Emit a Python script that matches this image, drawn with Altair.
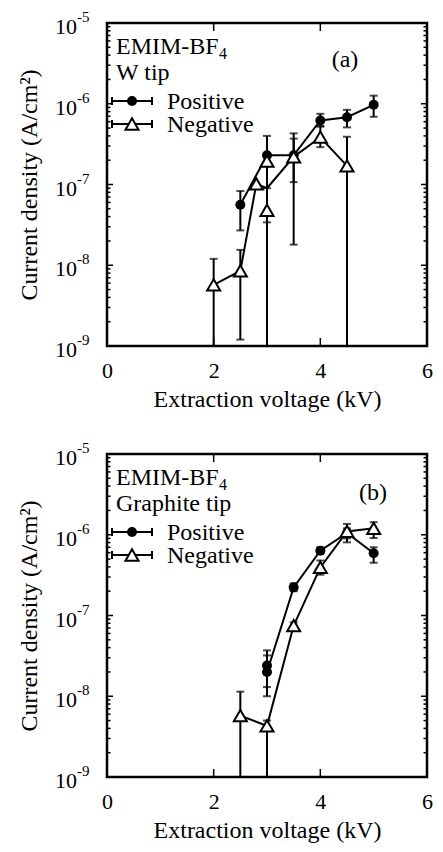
import altair as alt
import pandas as pd

FONT = "Liberation Serif"
W, H = 320, 323
OFF = 1e-10  # lower error limit that falls below the axis

# ---------------- data: panel (a) W tip ----------------
a_pos_x = [2.5, 3.0, 3.5, 4.0, 4.5, 5.0]
a_pos_y = [5.6e-8, 2.3e-7, 2.3e-7, 6.2e-7, 6.8e-7, 9.7e-7]
a_neg_x = [2.0, 2.5, 2.8, 3.0, 3.0, 3.5, 4.0, 4.5]
a_neg_y = [5.7e-9, 8.5e-9, 1.02e-7, 1.95e-7, 4.8e-8, 2.2e-7, 3.85e-7, 1.7e-7]
a_neg_line_x = [2.0, 2.5, 2.8, 3.0, 3.5, 4.0, 4.5]
a_neg_line_y = [5.7e-9, 8.5e-9, 1.02e-7, 9.0e-8, 2.2e-7, 3.85e-7, 1.7e-7]
a_err_x = [2.0, 2.5, 2.5, 3.0, 3.0, 3.5, 3.5, 4.0, 4.0, 4.5, 4.5, 5.0]
a_err_lo = [OFF, 2.7e-8, 1.2e-9, 3.4e-8, OFF, 1.07e-7, 1.8e-8, 5.3e-7, 2.9e-7, 5.1e-7, OFF, 6.9e-7]
a_err_hi = [1.2e-8, 8.3e-8, 1.55e-8, 4.0e-7, 9.0e-8, 4.3e-7, 3.7e-7, 7.5e-7, 5.2e-7, 8.4e-7, 3.9e-7, 1.26e-6]

# ---------------- data: panel (b) Graphite tip ----------------
b_pos_x = [3.0, 3.0, 3.5, 4.0, 4.5, 5.0]
b_pos_y = [2.4e-8, 2.0e-8, 2.23e-7, 6.35e-7, 1.05e-6, 5.9e-7]
b_neg_x = [2.5, 3.0, 3.5, 4.0, 4.5, 5.0]
b_neg_y = [5.75e-9, 4.3e-9, 7.5e-8, 3.94e-7, 1.1e-6, 1.2e-6]
b_err_x = [2.5, 3.0, 3.0, 3.0, 3.5, 3.5, 4.0, 4.0, 4.5, 4.5, 5.0, 5.0]
b_err_lo = [OFF, OFF, 1.3e-8, 1.0e-8, 2.0e-7, 6.8e-8, 5.8e-7, 3.2e-7, 9.0e-7, 8.05e-7, 4.5e-7, 9.1e-7]
b_err_hi = [1.14e-8, 5.0e-9, 3.7e-8, 3.2e-8, 2.5e-7, 8.2e-8, 7.0e-7, 4.8e-7, 1.2e-6, 1.36e-6, 7.0e-7, 1.43e-6]

# ---------------- text ----------------
series_names = ["Positive", "Negative"]
liquid = "EMIM-BF"
liquid_sub = "4"
tips = ["W tip", "Graphite tip"]
tags = ["(a)", "(b)"]
x_title = "Extraction voltage (kV)"
y_title = "Current density (A/cm\u00b2)"
x_tick_values = [0, 2, 4, 6]
x_inner_ticks = [2, 4]
y_major = [1e-9, 1e-8, 1e-7, 1e-6, 1e-5]
y_exps = ["-9", "-8", "-7", "-6", "-5"]
y_minor = [m * 10.0 ** k for k in range(-9, -5) for m in range(2, 10)]

xs = alt.Scale(domain=[0, 6], nice=False, zero=False)
ys = alt.Scale(type="log", domain=[1e-9, 1e-5], nice=False)
AX = alt.Axis(values=x_tick_values, tickSize=0, domain=False, grid=False,
              labelPadding=14, titlePadding=6, labelFontSize=22,
              titleFontSize=24, labelFlush=False, title=x_title)
AY = alt.Axis(labels=False, ticks=False, domain=False, grid=False,
              titlePadding=66, titleFontSize=24, title=y_title)


def X(f="x"):
    return alt.X(f"{f}:Q", scale=xs, axis=AX, title=x_title)


def Y(f="y"):
    return alt.Y(f"{f}:Q", scale=ys, axis=AY, title=y_title)


def panel(pos_x, pos_y, neg_x, neg_y, pos_lx, pos_ly, neg_lx, neg_ly,
          ex, elo, ehi, tip, tag, tag_x, tag_y):
    pos = pd.DataFrame({"x": pos_x, "y": pos_y})
    neg = pd.DataFrame({"x": neg_x, "y": neg_y})
    pl = pd.DataFrame({"x": pos_lx, "y": pos_ly, "i": range(len(pos_lx))})
    nl = pd.DataFrame({"x": neg_lx, "y": neg_ly, "i": range(len(neg_lx))})
    err = pd.DataFrame({"x": ex, "y": elo, "y2": ehi})
    caps = pd.concat([err[["x", "y"]],
                      err[["x", "y2"]].rename(columns={"y2": "y"})])
    caps = caps[(caps.y >= 1e-9) & (caps.y <= 1e-5)]

    rules = alt.Chart(err).mark_rule(color="black", strokeWidth=2, clip=True).encode(
        x=X(), y=Y(), y2="y2:Q")
    cap_marks = alt.Chart(caps).mark_tick(orient="horizontal", color="black", size=8,
                                          thickness=2).encode(x=X(), y=Y())
    pos_line = alt.Chart(pl).mark_line(color="black", strokeWidth=2).encode(
        x=X(), y=Y(), order="i:Q")
    neg_line = alt.Chart(nl).mark_line(color="black", strokeWidth=2).encode(
        x=X(), y=Y(), order="i:Q")
    pos_pts = alt.Chart(pos).mark_point(shape="circle", filled=True, color="black",
                                        size=100, opacity=1).encode(x=X(), y=Y())
    neg_pts = alt.Chart(neg).mark_point(shape="triangle-up", fill="white", stroke="black",
                                        strokeWidth=2, size=170, opacity=1).encode(x=X(), y=Y())

    # inward ticks (rules)
    ymaj = pd.DataFrame({"y": y_major})
    ymin = pd.DataFrame({"y": y_minor})
    xin = pd.DataFrame({"x": x_inner_ticks})
    tick_layers = []
    for x0, x1, df in [(0, 6, ymaj), (W - 6, W, ymaj), (0, 3.5, ymin), (W - 3.5, W, ymin)]:
        tick_layers.append(alt.Chart(df).mark_rule(color="black", strokeWidth=1.5).encode(
            y=Y(), x=alt.value(x0), x2=alt.value(x1)))
    for y0, y1 in [(0, 8), (H - 8, H)]:
        tick_layers.append(alt.Chart(xin).mark_rule(color="black", strokeWidth=1.5).encode(
            x=X(), y=alt.value(y0), y2=alt.value(y1)))

    # y tick labels 10^n
    lab = pd.DataFrame({"y": y_major, "e": y_exps, "b": ["10"] * len(y_major)})
    ten = alt.Chart(lab).mark_text(align="right", baseline="middle", fontSize=22,
                                   font=FONT, dy=4, color="black").encode(
        y=Y(), x=alt.value(-30), text="b:N")
    exp = alt.Chart(lab).mark_text(align="left", baseline="middle", fontSize=15,
                                   font=FONT, dy=-6, color="black").encode(
        y=Y(), x=alt.value(-30), text="e:N")

    # annotations
    ann = []
    ann.append(alt.Chart(pd.DataFrame({"t": [liquid]})).mark_text(
        align="left", baseline="alphabetic", fontSize=24, font=FONT, color="black").encode(
        x=alt.value(9), y=alt.value(31), text="t:N"))
    ann.append(alt.Chart(pd.DataFrame({"t": [liquid_sub]})).mark_text(
        align="left", baseline="alphabetic", fontSize=16, font=FONT, color="black").encode(
        x=alt.value(112), y=alt.value(36), text="t:N"))
    ann.append(alt.Chart(pd.DataFrame({"t": [tip]})).mark_text(
        align="left", baseline="alphabetic", fontSize=24, font=FONT, color="black").encode(
        x=alt.value(9), y=alt.value(57), text="t:N"))
    ann.append(alt.Chart(pd.DataFrame({"t": [tag]})).mark_text(
        align="center", baseline="middle", fontSize=24, font=FONT, color="black").encode(
        x=alt.value(tag_x), y=alt.value(tag_y), text="t:N"))

    # legend
    for k, name in enumerate(series_names):
        ly = 78 + 23 * k
        d = pd.DataFrame({"t": [name]})
        ann.append(alt.Chart(d).mark_rule(color="black", strokeWidth=2).encode(
            x=alt.value(5), x2=alt.value(45), y=alt.value(ly)))
        for cx in [5, 45]:
            ann.append(alt.Chart(d).mark_rule(color="black", strokeWidth=2).encode(
                x=alt.value(cx), y=alt.value(ly - 4), y2=alt.value(ly + 4)))
        if k == 0:
            ann.append(alt.Chart(d).mark_point(shape="circle", filled=True, color="black",
                                               size=100, opacity=1).encode(
                x=alt.value(25), y=alt.value(ly)))
        else:
            ann.append(alt.Chart(d).mark_point(shape="triangle-up", fill="white",
                                               stroke="black", strokeWidth=2, size=170,
                                               opacity=1).encode(
                x=alt.value(25), y=alt.value(ly)))
        ann.append(alt.Chart(d).mark_text(align="left", baseline="middle", fontSize=24,
                                          font=FONT, color="black", dy=1).encode(
            x=alt.value(60), y=alt.value(ly), text="t:N"))

    return alt.layer(rules, cap_marks, pos_line, neg_line, pos_pts, neg_pts,
                     *tick_layers, ten, exp, *ann).properties(width=W, height=H)


pa = panel(a_pos_x, a_pos_y, a_neg_x, a_neg_y, a_pos_x, a_pos_y, a_neg_line_x, a_neg_line_y,
           a_err_x, a_err_lo, a_err_hi, tips[0], tags[0], 238, 37)
pb = panel(b_pos_x, b_pos_y, b_neg_x, b_neg_y, b_pos_x, b_pos_y, b_neg_x, b_neg_y,
           b_err_x, b_err_lo, b_err_hi, tips[1], tags[1], 266, 39)

chart = alt.vconcat(pa, pb, spacing=26).properties(
    padding={"left": 7, "top": 0, "right": 0, "bottom": 0}
).configure_view(stroke="black", strokeWidth=2.5).configure_axis(
    labelFont=FONT, titleFont=FONT, labelColor="black", titleColor="black",
    titleFontWeight="normal"
)

chart.save("out.html", embed_options={"renderer": "svg", "actions": False})
